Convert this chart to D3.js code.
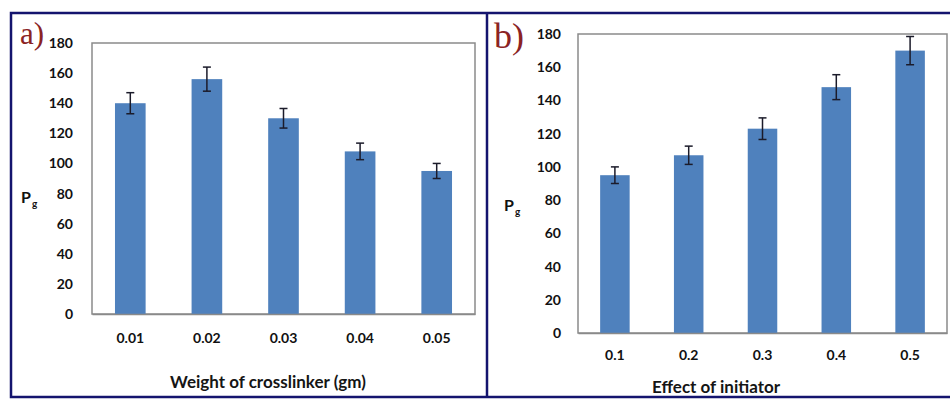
<!DOCTYPE html>
<html>
<head>
<meta charset="utf-8">
<script src="https://cdn.jsdelivr.net/npm/d3@7"></script>
<style>
  html, body { margin: 0; padding: 0; background: #fff; }
  svg { display: block; }
  .tick text { font-family: Lato, "Open Sans", sans-serif; font-weight: bold; font-size: 14px; fill: #111; }
</style>
</head>
<body>
<svg id="chart" width="950" height="400"></svg>
<script>
// Panel a: effect of crosslinker weight on Pg
const crosslinker = ["0.01", "0.02", "0.03", "0.04", "0.05"];
const pgCrosslinker = [140, 156, 130, 108, 95];
const errCrosslinker = [7, 8, 6.5, 5.5, 5];

// Panel b: effect of initiator on Pg
const initiator = ["0.1", "0.2", "0.3", "0.4", "0.5"];
const pgInitiator = [95, 107, 123, 148, 170];
const errInitiator = [5, 5.5, 6.5, 7.5, 8.5];

const yTicks = [0, 20, 40, 60, 80, 100, 120, 140, 160, 180];

const svg = d3.select("#chart");
const frameColor = "#14146e";
const barColor = "#4f81bd";

function panel(cfg) {
  const x = d3.scaleBand().domain(cfg.cats).range([cfg.left, cfg.right])
    .paddingInner(0.6).paddingOuter(0.3);
  const y = d3.scaleLinear().domain([0, 180]).range([cfg.bottom, cfg.top]);
  const g = svg.append("g");

  // plot area box
  g.append("rect")
    .attr("x", cfg.left).attr("y", cfg.top)
    .attr("width", cfg.right - cfg.left).attr("height", cfg.bottom - cfg.top)
    .attr("fill", "#fff").attr("stroke", "#8a8a8a").attr("stroke-width", 1.5);

  // bars
  g.selectAll("rect.bar").data(cfg.values).join("rect")
    .attr("class", "bar")
    .attr("x", (d, i) => x(cfg.cats[i]))
    .attr("width", x.bandwidth())
    .attr("y", d => y(d))
    .attr("height", d => y(0) - y(d))
    .attr("fill", barColor);

  // error bars
  const eb = g.selectAll("g.err").data(cfg.values).join("g").attr("class", "err")
    .attr("stroke", "#1b1b2a").attr("stroke-width", 1.5);
  const cx = i => x(cfg.cats[i]) + x.bandwidth() / 2;
  eb.append("line")
    .attr("x1", (d, i) => cx(i)).attr("x2", (d, i) => cx(i))
    .attr("y1", (d, i) => y(d + cfg.errs[i])).attr("y2", (d, i) => y(d - cfg.errs[i]));
  [1, -1].forEach(s => {
    eb.append("line")
      .attr("x1", (d, i) => cx(i) - 4).attr("x2", (d, i) => cx(i) + 4)
      .attr("y1", (d, i) => y(d + s * cfg.errs[i])).attr("y2", (d, i) => y(d + s * cfg.errs[i]));
  });

  // axes
  const ya = g.append("g").attr("transform", `translate(${cfg.left},0)`)
    .call(d3.axisLeft(y).tickValues(yTicks).tickSize(0).tickPadding(cfg.yPad));
  ya.select(".domain").remove();

  const xa = g.append("g").attr("transform", `translate(0,${cfg.bottom})`)
    .call(d3.axisBottom(x).tickSize(0).tickPadding(cfg.xPad));
  xa.select(".domain").attr("stroke", "#8a8a8a").attr("stroke-width", 1.5);

  // axis titles
  g.append("text")
    .attr("x", cfg.titleX).attr("y", cfg.titleY)
    .attr("text-anchor", "middle")
    .style("font-family", "Lato, sans-serif").style("font-size", "17px").style("font-weight", "bold")
    .attr("fill", "#151515")
    .text(cfg.title);

  const p = g.append("text")
    .attr("x", cfg.pX).attr("y", cfg.pY)
    .style("font-family", "Lato, sans-serif").style("font-weight", "bold")
    .attr("fill", "#111");
  p.append("tspan").style("font-size", "16px").text("P");
  p.append("tspan").attr("dy", 4).attr("dx", 1).style("font-size", "10px").text("g");

  // panel letter
  g.append("text")
    .attr("x", cfg.letterX).attr("y", cfg.letterY)
    .style("font-family", "'Liberation Serif', 'DejaVu Serif', serif")
    .style("font-size", cfg.letterSize + "px")
    .attr("fill", "#8b2323")
    .text(cfg.letter);
}

panel({
  cats: crosslinker, values: pgCrosslinker, errs: errCrosslinker,
  left: 92, right: 475, top: 43, bottom: 314,
  yPad: 19, xPad: 19,
  title: "Weight of crosslinker (gm)", titleX: 268, titleY: 388,
  pX: 21, pY: 203, letter: "a)", letterX: 20, letterY: 44, letterSize: 31
});

panel({
  cats: initiator, values: pgInitiator, errs: errInitiator,
  left: 578, right: 947, top: 34, bottom: 333,
  yPad: 17, xPad: 17,
  title: "Effect of initiator", titleX: 716, titleY: 393,
  pX: 504, pY: 211, letter: "b)", letterX: 494, letterY: 48, letterSize: 36
});

// outer frame and panel separator
const frame = svg.append("g").attr("stroke", frameColor).attr("stroke-width", 2.5).attr("fill", "none");
frame.append("rect").attr("x", 11).attr("y", 13).attr("width", 945).attr("height", 384);
frame.append("line").attr("x1", 487).attr("x2", 487).attr("y1", 13).attr("y2", 397);
</script>
</body>
</html>
